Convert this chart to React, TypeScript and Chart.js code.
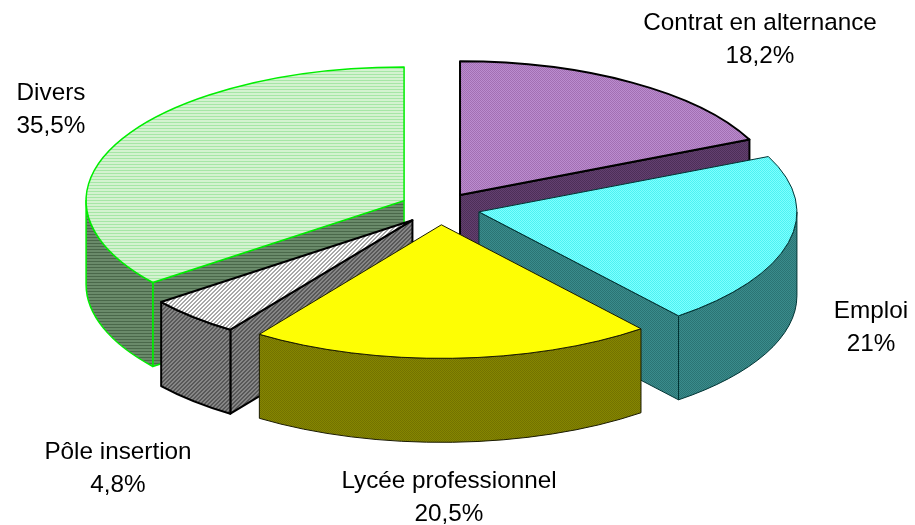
import React, { useEffect, useRef } from "react";
import { Chart, registerables } from "chart.js";

Chart.register(...registerables);

const categories = ["Contrat en alternance", "Emploi", "Lycée professionnel", "Pôle insertion", "Divers"];
const shares = [18.2, 21, 20.5, 4.8, 35.5];
const explode = [37, 40, 40, 40, 40];

const topA = ["#bb8ccf", "#7dffff", "#ffff00", "#ffffff", "#d4f2d0"];
const topB = ["#a26fb2", "#4df2f2", "#fcfc08", "#a8a8a8", "#a6e6a6"];
const sideA = ["#634070", "#3a8c8c", "#868600", "#868686", "#6a8a6a"];
const sideB = ["#4d2f58", "#2b7474", "#727200", "#585858", "#4a684a"];
const hatch = ["dot", "dot", "dot", "diag", "hline"];
const edgeColors = ["#000000", "#003333", "#1a1a00", "#000000", "#00ee00"];
const edgeWidths = [2, 1, 1, 2, 1.5];

const labelX = [760, 871, 449, 118, 51];
const labelY = [23, 311, 481, 452, 93];
const LINE_GAP = 33;

const TILT = 0.42;
const DEPTH = 84;
const RADIUS = 318;

function makePattern(ctx: CanvasRenderingContext2D, a: string, b: string, mode: string, yScale: number) {
  const size = mode === "diag" ? 4 : mode === "hline" ? 3 : 2;
  const c = document.createElement("canvas");
  c.width = size;
  c.height = size;
  const g = c.getContext("2d")!;
  g.fillStyle = a;
  g.fillRect(0, 0, size, size);
  g.fillStyle = b;
  if (mode === "dot") {
    g.fillRect(0, 0, 1, 1);
    g.fillRect(1, 1, 1, 1);
  } else if (mode === "hline") {
    g.fillRect(0, 0, size, 1);
  } else {
    for (let i = 0; i < size; i++) {
      g.fillRect((size - 1 - i) % size, i, 1, 1);
      g.fillRect((size - i) % size, i, 1, 1);
    }
  }
  const p = ctx.createPattern(c, "repeat")!;
  if (yScale !== 1) p.setTransform(new DOMMatrix().scale(1, yScale));
  return p;
}

function pieGeometry(arc: any, i: number) {
  const mid = (arc.startAngle + arc.endAngle) / 2;
  const cx = arc.x + Math.cos(mid) * explode[i];
  const cy = arc.y + Math.sin(mid) * explode[i] * TILT;
  return { mid, cx, cy, r: arc.outerRadius, a0: arc.startAngle, a1: arc.endAngle };
}

const pie3d = {
  id: "pie3d",
  beforeDatasetDraw(chart: any) {
    const ctx: CanvasRenderingContext2D = chart.ctx;
    const arcs: any[] = chart.getDatasetMeta(0).data;
    const order = arcs
      .map((arc, i) => ({ arc, i, g: pieGeometry(arc, i) }))
      .sort((p, q) => Math.sin(p.g.mid) - Math.sin(q.g.mid));

    ctx.save();
    ctx.lineJoin = "round";
    // extruded walls and rims, back to front; walls facing away are skipped
    for (const { i, g } of order) {
      ctx.fillStyle = makePattern(ctx, sideA[i], sideB[i], hatch[i], 1);
      ctx.strokeStyle = edgeColors[i];
      ctx.lineWidth = edgeWidths[i];
      const walls: number[] = [];
      if (-Math.cos(g.a0) > 0) walls.push(g.a0);
      if (Math.cos(g.a1) > 0) walls.push(g.a1);
      for (const a of walls) {
        const ex = g.cx + g.r * Math.cos(a);
        const ey = g.cy + g.r * TILT * Math.sin(a);
        ctx.beginPath();
        ctx.moveTo(g.cx, g.cy);
        ctx.lineTo(ex, ey);
        ctx.lineTo(ex, ey + DEPTH);
        ctx.lineTo(g.cx, g.cy + DEPTH);
        ctx.closePath();
        ctx.fill();
        ctx.stroke();
      }
      const from = Math.max(g.a0, 0);
      const to = Math.min(g.a1, Math.PI);
      if (to > from) {
        ctx.beginPath();
        ctx.ellipse(g.cx, g.cy, g.r, g.r * TILT, 0, from, to);
        ctx.lineTo(g.cx + g.r * Math.cos(to), g.cy + g.r * TILT * Math.sin(to) + DEPTH);
        ctx.ellipse(g.cx, g.cy + DEPTH, g.r, g.r * TILT, 0, to, from, true);
        ctx.closePath();
        ctx.fill();
        ctx.stroke();
      }
    }
    // top faces, drawn by the library's arc elements under a tilted transform
    for (const { arc, i, g } of order) {
      ctx.save();
      ctx.imageSmoothingEnabled = false;
      ctx.translate(g.cx, g.cy);
      ctx.scale(1, TILT);
      ctx.translate(-arc.x, -arc.y);
      arc.draw(ctx);
      ctx.restore();
      ctx.strokeStyle = edgeColors[i];
      ctx.lineWidth = edgeWidths[i];
      ctx.beginPath();
      ctx.moveTo(g.cx, g.cy);
      ctx.ellipse(g.cx, g.cy, g.r, g.r * TILT, 0, g.a0, g.a1);
      ctx.closePath();
      ctx.stroke();
    }
    ctx.restore();
    return false;
  },
  afterDraw(chart: any) {
    const ctx: CanvasRenderingContext2D = chart.ctx;
    ctx.save();
    ctx.fillStyle = "#000000";
    ctx.font = '24.3px "Liberation Sans", Arial, sans-serif';
    ctx.textAlign = "center";
    ctx.textBaseline = "middle";
    categories.forEach((name, i) => {
      ctx.fillText(name, labelX[i], labelY[i]);
      ctx.fillText(String(shares[i]).replace(".", ",") + "%", labelX[i], labelY[i] + LINE_GAP);
    });
    ctx.restore();
  },
};

export default function App() {
  const ref = useRef<HTMLCanvasElement>(null);
  useEffect(() => {
    const canvas = ref.current!;
    const ctx = canvas.getContext("2d")!;
    const tops = categories.map((_, i) => makePattern(ctx, topA[i], topB[i], hatch[i], 1 / TILT));
    const chart = new Chart(canvas, {
      type: "pie",
      data: {
        labels: categories,
        datasets: [{ data: shares, backgroundColor: tops as any, borderWidth: 0, radius: RADIUS } as any],
      },
      options: {
        responsive: false,
        maintainAspectRatio: false,
        animation: false,
        layout: { padding: { left: 0, top: 0, right: 35, bottom: 109 } },
        plugins: { legend: { display: false }, tooltip: { enabled: false } },
      },
      plugins: [pie3d as any],
    });
    return () => chart.destroy();
  }, []);
  return (
    <canvas
      ref={ref}
      width={915}
      height={525}
      style={{ position: "fixed", left: 0, top: 0, display: "block", background: "#ffffff" }}
    />
  );
}
